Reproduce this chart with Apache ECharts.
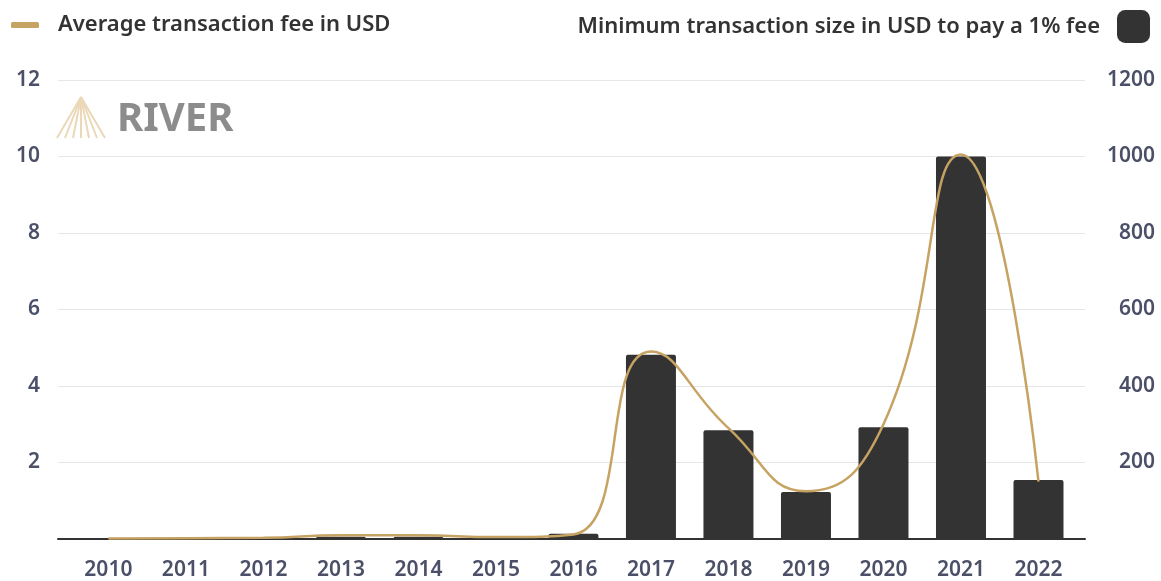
<!DOCTYPE html>
<html>
<head>
    <meta charset="utf-8">
    <title>Bitcoin transaction fees</title>
    <script src="https://cdn.jsdelivr.net/npm/echarts@6/dist/echarts.min.js"></script>
    <style>
        html, body { margin: 0; padding: 0; background: #fff; }
        #chart { width: 1161px; height: 581px; }
    </style>
</head>
<body>
<div id="chart"></div>
<script>
    // data
    var years = [2010, 2011, 2012, 2013, 2014, 2015, 2016, 2017, 2018, 2019, 2020, 2021, 2022];
    var avgFee = [0.01, 0.02, 0.03, 0.1, 0.1, 0.05, 0.12, 4.9, 2.9, 1.25, 3.0, 10.05, 1.5];
    var minSize = [0.3, 0.5, 1, 6, 6, 2, 14, 482, 284, 123, 292, 1000, 154];
    var leftTicks = [0, 2, 4, 6, 8, 10, 12];
    var rightTicks = [0, 200, 400, 600, 800, 1000, 1200];

    var gold = '#c6a263';
    var dark = '#333333';
    var labelColor = '#4b5068';
    var font = 'Noto Sans';

    var chart = echarts.init(document.getElementById('chart'));

    // watermark logo (fan + word)
    var fan = [];
    var apexX = 81, apexY = 97;
    [57, 65, 73, 81, 89, 97, 105].forEach(function (bx) {
        fan.push({
            type: 'line',
            shape: { x1: apexX, y1: apexY, x2: bx, y2: 138 },
            style: { stroke: '#ead8b8', lineWidth: 2 },
            z: 1
        });
    });
    fan.push({
        type: 'text',
        left: 117,
        top: 100,
        style: { text: 'RIVER', font: 'bold 40px "Noto Sans"', fill: '#8c8c8c' },
        z: 1
    });

    var option = {
        animation: false,
        textStyle: { fontFamily: font },
        legend: [{
            data: ['Average transaction fee in USD'],
            left: 6,
            top: 9,
            icon: 'roundRect',
            itemWidth: 28,
            itemHeight: 6,
            textStyle: { fontSize: 22, color: '#333', fontWeight: 600, padding: [0, 0, 0, 14] }
        }, {
            data: ['Minimum transaction size in USD to pay a 1% fee'],
            right: 6,
            top: 5,
            align: 'right',
            icon: 'roundRect',
            itemWidth: 33,
            itemHeight: 33,
            textStyle: { fontSize: 22, color: '#333', fontWeight: 600, padding: [0, 12, 0, 0] }
        }],
        grid: { left: 58, right: 76, top: 80, bottom: 41 },
        graphic: fan,
        xAxis: {
            type: 'value',
            min: 2009.35,
            max: 2022.6,
            splitLine: { show: false },
            axisTick: { show: false },
            axisLine: { show: true, lineStyle: { color: dark, width: 2 } },
            axisLabel: {
                customValues: years,
                color: labelColor,
                fontSize: 21,
                fontWeight: 600,
                margin: 21,
                formatter: function (v) { return String(Math.round(v)); }
            }
        },
        yAxis: [{
            type: 'value',
            min: leftTicks[0],
            max: leftTicks[leftTicks.length - 1],
            interval: 2,
            axisLine: { show: false },
            axisTick: { show: false },
            splitLine: { lineStyle: { color: '#e6e6e6', width: 1 } },
            axisLabel: {
                color: labelColor,
                fontSize: 21,
                fontWeight: 600,
                margin: 18,
                formatter: function (v) { return v === 0 ? '' : v; }
            }
        }, {
            type: 'value',
            min: rightTicks[0],
            max: rightTicks[rightTicks.length - 1],
            interval: 200,
            axisLine: { show: false },
            axisTick: { show: false },
            splitLine: { show: false },
            axisLabel: {
                color: labelColor,
                fontSize: 21,
                fontWeight: 600,
                margin: 70,
                align: 'right',
                formatter: function (v) { return v === 0 ? '' : v; }
            }
        }],
        series: [{
            name: 'Minimum transaction size in USD to pay a 1% fee',
            type: 'bar',
            yAxisIndex: 1,
            barWidth: 50,
            itemStyle: { color: dark, borderRadius: [2, 2, 0, 0] },
            data: years.map(function (y, i) { return [y, minSize[i]]; }),
            z: 2
        }, {
            name: 'Average transaction fee in USD',
            type: 'line',
            yAxisIndex: 0,
            smooth: 0.5,
            showSymbol: false,
            symbol: 'none',
            lineStyle: { color: gold, width: 2.5 },
            itemStyle: { color: gold },
            data: years.map(function (y, i) { return [y, avgFee[i]]; }),
            z: 3
        }]
    };

    chart.setOption(option);

    window.onresize = function () {
        chart.resize();
    };
</script>
</body>
</html>
